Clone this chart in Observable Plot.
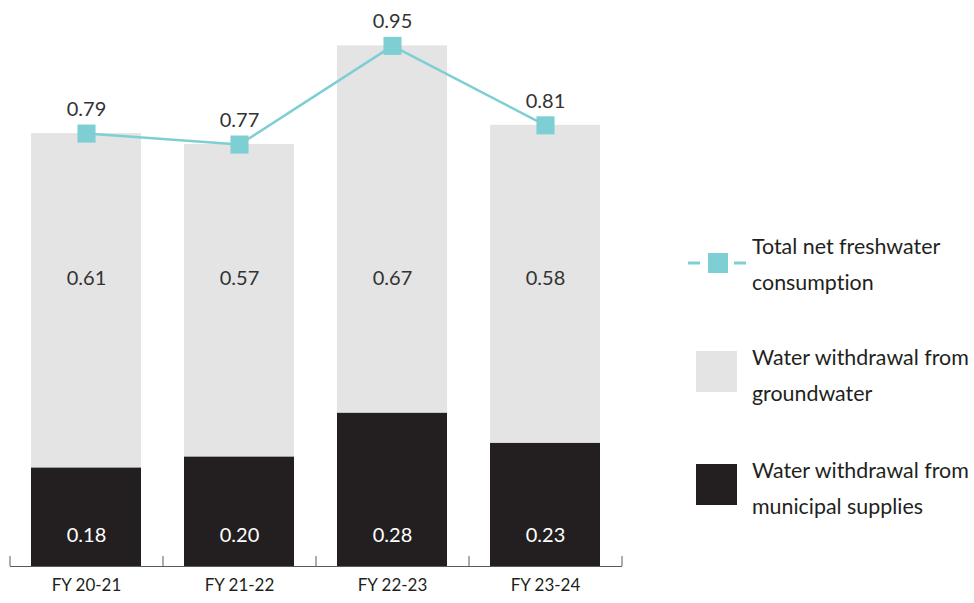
<!DOCTYPE html>
<html>
<head>
<meta charset="utf-8">
<script src="https://cdn.jsdelivr.net/npm/d3@7"></script>
<script src="https://cdn.jsdelivr.net/npm/@observablehq/plot@0.6"></script>
<style>
  html, body { margin: 0; padding: 0; background: #fff; }
  #wrap { position: relative; width: 974px; height: 603px; font-family: Lato, "Open Sans", sans-serif; color: #231f20; font-variant-ligatures: none; }
  #wrap svg text { font-variant-ligatures: none; }
  .leg { position: absolute; font-size: 21.4px; line-height: 36px; color: #231f20; white-space: nowrap; font-variant-ligatures: none; }
  .sw { position: absolute; }
</style>
</head>
<body>
<div id="wrap"></div>
<script>
const years = ["FY 20-21", "FY 21-22", "FY 22-23", "FY 23-24"];
const municipal = [0.18, 0.20, 0.28, 0.225];
const groundwater = [0.61, 0.57, 0.67, 0.58];
const totalNet = [0.79, 0.77, 0.95, 0.805];
const seriesNames = ["Water withdrawal from municipal supplies", "Water withdrawal from groundwater", "Total net freshwater consumption"];

const colMun = "#231f20", colGw = "#e4e4e4", colLine = "#7ecfd3";

const stacked = [];
years.forEach((y, i) => {
  stacked.push({year: y, series: seriesNames[0], value: municipal[i]});
  stacked.push({year: y, series: seriesNames[1], value: groundwater[i]});
});
const totals = years.map((y, i) => ({year: y, value: totalNet[i]}));
const munRows = years.map((y, i) => ({year: y, value: municipal[i]}));
const gwRows = years.map((y, i) => ({year: y, value: groundwater[i]}));

const chart = Plot.plot({
  width: 974,
  height: 603,
  marginLeft: 10,
  marginRight: 352,
  marginTop: 18,
  marginBottom: 37,
  style: {fontFamily: "Lato, 'Open Sans', sans-serif", color: "#231f20", background: "#fff"},
  x: {domain: years, paddingInner: 0.281, paddingOuter: 0.14, axis: null, label: null},
  y: {domain: [0, 1], axis: null},
  color: {domain: seriesNames.slice(0, 2), range: [colMun, colGw]},
  marks: [
    Plot.barY(stacked, {x: "year", y: "value", fill: "series", order: seriesNames.slice(0, 2)}),
    Plot.ruleY([0], {stroke: "#58595b", strokeWidth: 1}),
    Plot.ruleX(years, {x: d => d, y1: 0, y2: 0.018, dx: -76.5, stroke: "#58595b", strokeWidth: 1}),
    Plot.ruleX(years.slice(-1), {x: d => d, y1: 0, y2: 0.018, dx: 76.5, stroke: "#58595b", strokeWidth: 1}),
    Plot.axisX({tickSize: 0, tickPadding: 12, fontSize: 17, fill: "#231f20", label: null}),
    Plot.text(gwRows, {x: "year", y: () => 0.525, text: d => d.value.toFixed(2), fontSize: 20, fill: "#333"}),
    Plot.text(munRows, {x: "year", y: () => 0.057, text: d => d.value.toFixed(2), fontSize: 20, fill: "#fff"}),
    Plot.lineY(totals, {x: "year", y: "value", stroke: colLine, strokeWidth: 2.5}),
    Plot.dot(totals, {x: "year", y: "value", symbol: "square", r: 10.2, fill: colLine, stroke: "none"}),
    Plot.text(totals, {x: "year", y: "value", text: d => d.value.toFixed(2), dy: -24, fontSize: 20, fill: "#333"})
  ]
});

const wrap = document.getElementById("wrap");
wrap.appendChild(chart);

const legendItems = [
  {name: seriesNames[2], lines: ["Total net freshwater", "consumption"], kind: "line", color: colLine, textTop: 228, swTop: 253},
  {name: seriesNames[1], lines: ["Water withdrawal from", "groundwater"], kind: "box", color: colGw, textTop: 339, swTop: 351},
  {name: seriesNames[0], lines: ["Water withdrawal from", "municipal supplies"], kind: "box", color: colMun, textTop: 452, swTop: 464}
];
for (const it of legendItems) {
  const sw = document.createElementNS("http://www.w3.org/2000/svg", "svg");
  sw.setAttribute("class", "sw");
  if (it.kind === "line") {
    sw.setAttribute("width", 58); sw.setAttribute("height", 20);
    sw.style.left = "688px"; sw.style.top = it.swTop + "px";
    sw.innerHTML = `<line x1="0" x2="12" y1="10" y2="10" stroke="${it.color}" stroke-width="3"/>
      <line x1="46" x2="58" y1="10" y2="10" stroke="${it.color}" stroke-width="3"/>
      <rect x="20" y="0" width="20" height="20" fill="${it.color}"/>`;
  } else {
    sw.setAttribute("width", 41); sw.setAttribute("height", 41);
    sw.style.left = "696px"; sw.style.top = it.swTop + "px";
    sw.innerHTML = `<rect x="0" y="0" width="41" height="41" fill="${it.color}"/>`;
  }
  wrap.appendChild(sw);
  const t = document.createElement("div");
  t.className = "leg";
  t.style.left = "752px"; t.style.top = it.textTop + "px";
  t.innerHTML = it.lines.join("<br>");
  wrap.appendChild(t);
}
</script>
</body>
</html>
